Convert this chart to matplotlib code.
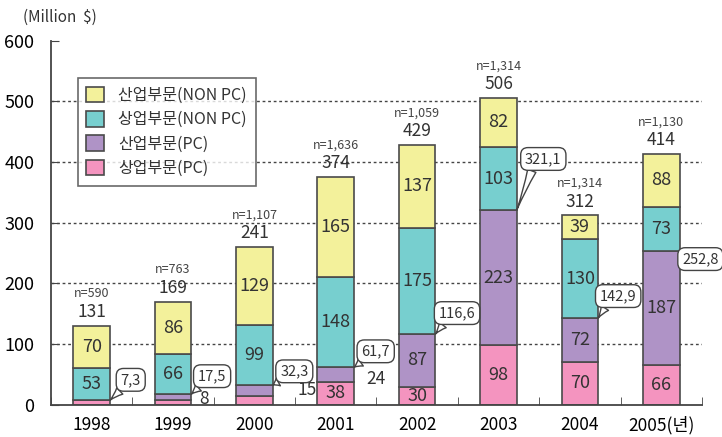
import numpy as np
import matplotlib
matplotlib.use("Agg")
import matplotlib.pyplot as plt
from matplotlib.ticker import MultipleLocator

plt.rcParams["font.family"] = ["Noto Sans CJK KR", "DejaVu Sans"]
plt.rcParams["text.color"] = "#333333"

years = ["1998", "1999", "2000", "2001", "2002", "2003", "2004", "2005(년)"]
# stacked from bottom to top
com_pc = [7.3, 8, 15, 38, 30, 98, 70, 66]                 # 상업부문(PC)
ind_pc = [0, 9.5, 17.3, 23.7, 86.6, 223.1, 72.9, 186.8]   # 산업부문(PC)
com_non = [53, 66, 99, 148, 175, 103, 130, 73]            # 상업부문(NON PC)
ind_non = [70, 86, 129, 165, 137, 82, 39, 88]             # 산업부문(NON PC)
totals = [131, 169, 241, 374, 429, 506, 312, 414]
n_resp = ["n=590", "n=763", "n=1,107", "n=1,636", "n=1,059", "n=1,314", "n=1,314", "n=1,130"]
pc_total = ["7,3", "17,5", "32,3", "61,7", "116,6", "321,1", "142,9", "252,8"]

# printed labels for the PC segments (None = not printed inside)
com_pc_lbl = [None, None, None, "38", "30", "98", "70", "66"]
ind_pc_lbl = [None, None, None, None, "87", "223", "72", "187"]
# values printed beside the bar
side_labels = {1: ("8", 1.38, 9), 2: ("15", 2.65, 24), 3: ("24", 3.49, 42)}
# callout box centres
callout_pos = [(0.48, 41), (1.48, 47), (2.49, 55), (3.49, 88),
               (4.49, 151), (5.55, 405), (6.47, 179), (7.48, 240)]

c_yellow = "#f3f19b"
c_cyan = "#77cfcf"
c_purple = "#af93c6"
c_pink = "#f494bf"
edge = "#4a4a4a"

fig = plt.figure(figsize=(7.22, 4.37), dpi=100)
ax = fig.add_axes([0.0706, 0.0739, 0.9017, 0.8331])

x = np.arange(len(years))
w = 0.45
b1 = np.array(com_pc)
b2 = b1 + np.array(ind_pc)
b3 = b2 + np.array(com_non)
kw = dict(width=w, edgecolor=edge, linewidth=1.2, zorder=2)
ax.bar(x, com_pc, color=c_pink, label="상업부문(PC)", **kw)
ax.bar(x, ind_pc, bottom=b1, color=c_purple, label="산업부문(PC)", **kw)
ax.bar(x, com_non, bottom=b2, color=c_cyan, label="상업부문(NON PC)", **kw)
ax.bar(x, ind_non, bottom=b3, color=c_yellow, label="산업부문(NON PC)", **kw)

fs_in = 13
for i in range(len(years)):
    ax.text(x[i], b3[i] + ind_non[i] / 2, str(ind_non[i]), ha="center", va="center", fontsize=fs_in)
    ax.text(x[i], b2[i] + com_non[i] / 2, str(com_non[i]), ha="center", va="center", fontsize=fs_in)
    if ind_pc_lbl[i]:
        ax.text(x[i], b1[i] + ind_pc[i] / 2, ind_pc_lbl[i], ha="center", va="center", fontsize=fs_in)
    if com_pc_lbl[i]:
        ax.text(x[i], com_pc[i] / 2, com_pc_lbl[i], ha="center", va="center", fontsize=fs_in)
    top = b3[i] + ind_non[i]
    ax.annotate(str(totals[i]), (x[i], top), xytext=(0, 10), textcoords="offset points",
                ha="center", va="center", fontsize=12.5)
    ax.annotate(n_resp[i], (x[i], top), xytext=(0, 23), textcoords="offset points",
                ha="center", va="center", fontsize=9, color="#444444")
    ax.annotate(pc_total[i], xy=(x[i] + w / 2, b2[i]), xytext=callout_pos[i],
                ha="center", va="center", fontsize=10.5, zorder=4, annotation_clip=False,
                bbox=dict(boxstyle="round,pad=0.3,rounding_size=0.5", fc="white", ec="#444444", lw=1),
                arrowprops=dict(arrowstyle="wedge,tail_width=0.6,shrink_factor=0.35",
                                fc="white", ec="#444444", lw=1, relpos=(0.25, 0.1),
                                shrinkA=0, shrinkB=0))

for i, (txt, tx, ty) in side_labels.items():
    ax.text(tx, ty, txt, ha="center", va="center", fontsize=12.5)

ax.set_xlim(-0.5, 7.5)
ax.set_ylim(0, 600)
ax.set_yticks(range(0, 601, 100))
ax.tick_params(axis="y", direction="in", length=6, color="#444444", labelsize=13, pad=12)
ax.set_xticks(x)
ax.set_xticklabels(years)
ax.tick_params(axis="x", which="major", length=0, labelsize=12.5, pad=8)
ax.xaxis.set_minor_locator(MultipleLocator(1, offset=0.5))
ax.tick_params(axis="x", which="minor", direction="in", length=6, color="#444444")
ax.hlines(range(100, 501, 100), -0.5, 7.5, colors="#444444", linestyles=(0, (2, 2)),
          linewidth=1, zorder=0.5)
for s in ["top", "right"]:
    ax.spines[s].set_visible(False)
for s in ["left", "bottom"]:
    ax.spines[s].set_color("#444444")
    ax.spines[s].set_linewidth(1.3)

handles, labels = ax.get_legend_handles_labels()
leg = ax.legend(handles[::-1], labels[::-1], loc="upper left", bbox_to_anchor=(0.041, 0.897),
                borderaxespad=0, fontsize=11.5, frameon=True, fancybox=False,
                handlelength=1.1, handleheight=1.1, handletextpad=0.9, labelspacing=0.45,
                borderpad=0.55)
leg.get_frame().set_edgecolor("#444444")
leg.get_frame().set_linewidth(1.2)

fig.text(23 / 722, 1 - 17 / 437, "(Million  $)", ha="left", va="center", fontsize=11)

fig.savefig("out.png", dpi=100)
